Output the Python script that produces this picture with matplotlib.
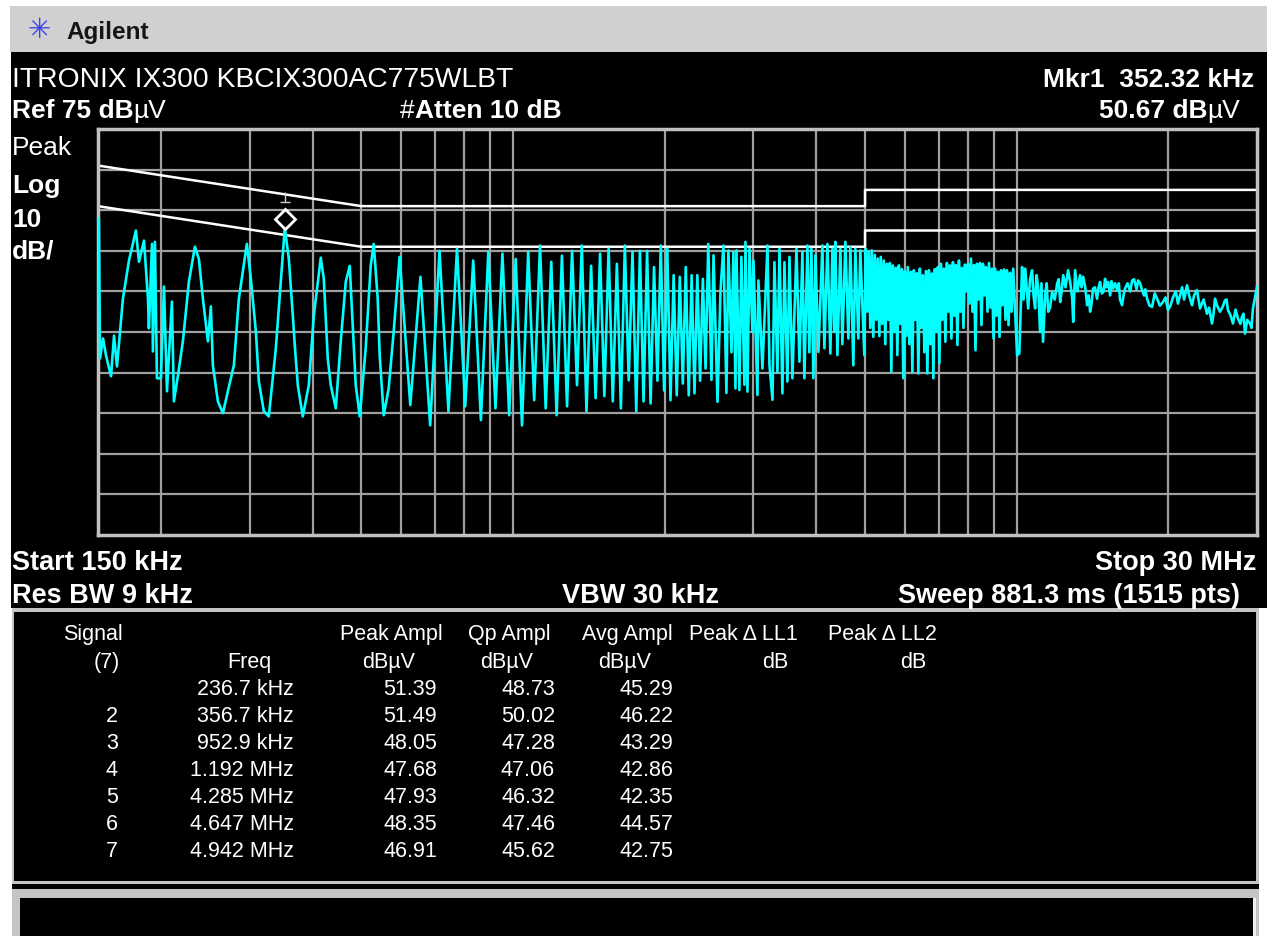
import matplotlib
matplotlib.use('Agg')
import matplotlib.pyplot as plt
from matplotlib.patches import Rectangle
from matplotlib.ticker import NullLocator
from matplotlib.transforms import ScaledTranslation

plt.rcParams['font.family'] = ['Liberation Sans', 'DejaVu Sans']

W, H = 1267, 937

# screen settings
ref_dbuv = 75
db_per_div = 10
start_mhz, stop_mhz = 0.15, 30.0

# limit lines (QP and AVG)
qp_limit_mhz = [0.15, 0.5, 5.0, 5.0, 30.0]
qp_limit_dbuv = [66, 56, 56, 60, 60]
avg_limit_mhz = [0.15, 0.5, 5.0, 5.0, 30.0]
avg_limit_dbuv = [56, 46, 46, 50, 50]

mkr_mhz = 0.35232
mkr_dbuv = 50.67

# trace, low part (kHz)
low_khz = [150.0, 150.6, 151.4, 153.5, 155.6, 159.2, 161.4, 163.6, 168.1, 172.8,
           178.4, 180.9, 185.1, 188.5, 189.3, 192.0, 192.8, 194.6, 196.4, 200.0,
           202.8, 205.6, 210.3, 212.2, 216.2, 221.1, 227.3, 233.6, 237.9, 242.3,
           247.9, 251.3, 253.6, 259.5, 265.5, 271.6, 279.2, 285.6, 296.2, 301.7,
           308.7, 312.9, 320.1, 327.5, 338.2, 346.0, 352.3, 358.9, 365.5, 368.8,
           373.9, 382.5, 393.2, 402.3, 415.3, 421.1, 428.8, 434.7, 444.8, 455.0,
           465.6, 474.1, 480.6, 487.3, 496.3, 510.0, 521.8, 529.0, 538.8, 543.7,
           553.8, 566.5, 579.6]
low_dbuv = [50.5, 52.9, 18.5, 23.4, 19.2, 14.1, 24.1, 16.5, 33.2, 42.6,
            50.0, 42.3, 47.5, 33.2, 25.9, 46.7, 20.2, 47.2, 13.6, 13.6,
            36.2, 10.4, 32.5, 7.9, 14.3, 22.7, 37.4, 46.0, 43.0, 33.2,
            22.7, 31.3, 16.8, 7.9, 5.0, 10.4, 16.8, 33.2, 46.7, 38.1,
            25.1, 12.8, 5.5, 4.2, 21.0, 37.4, 50.67, 43.0, 29.0, 21.7,
            11.9, 4.2, 11.9, 29.0, 43.3, 38.1, 18.5, 11.9, 6.2, 22.7,
            37.4, 41.3, 26.6, 11.9, 4.2, 21.0, 41.3, 46.7, 33.2, 19.2,
            4.5, 11.1, 25.1]

# resolved comb, harmonic tops and the dips between them (MHz)
comb_peak_mhz = [0.5955, 0.6551, 0.7146, 0.7742, 0.8337, 0.8933, 0.9528, 1.0124,
                 1.0719, 1.1315, 1.1910, 1.2506, 1.3101, 1.3697, 1.4292, 1.4888,
                 1.5483, 1.6079, 1.6674, 1.7270, 1.7865, 1.8461, 1.9056, 1.9652,
                 2.0247, 2.0843, 2.1438, 2.2034, 2.2629, 2.3225, 2.3820, 2.4416]
comb_peak_dbuv = [43.5, 38.6, 45.0, 45.5, 42.6, 44.8, 44.3, 43.0,
                  44.8, 46.3, 42.3, 43.8, 45.0, 46.3, 41.3, 44.3,
                  45.5, 41.8, 46.3, 44.8, 45.0, 45.0, 41.0, 46.3,
                  45.5, 39.0, 38.6, 41.0, 39.0, 39.0, 38.1, 46.7]
comb_dip_mhz = [0.6253, 0.6848, 0.7444, 0.8039, 0.8635, 0.9230, 0.9826, 1.0421,
                1.1017, 1.1612, 1.2208, 1.2803, 1.3399, 1.3994, 1.4590, 1.5185,
                1.5781, 1.6376, 1.6972, 1.7567, 1.8163, 1.8758, 1.9354, 1.9949,
                2.0545, 2.1140, 2.1736, 2.2331, 2.2927, 2.3522, 2.4118]
comb_dip_dbuv = [7.0, 2.0, 5.5, 6.7, 3.3, 6.2, 4.5, 2.0,
                 8.2, 6.2, 4.5, 6.7, 11.9, 5.5, 8.7, 9.2,
                 7.9, 6.2, 13.1, 5.5, 7.9, 7.4, 13.0, 10.6,
                 8.2, 9.4, 12.3, 9.4, 9.9, 13.0, 16.0]

# 2.4 - 4.9 MHz, harmonics only a few points apart
mid_mhz = [2.478, 2.501, 2.547, 2.582, 2.617, 2.653, 2.677, 2.715, 2.739, 2.765,
           2.777, 2.815, 2.841, 2.881, 2.894, 2.921, 2.948, 2.988, 3.002, 3.057,
           3.071, 3.128, 3.201, 3.230, 3.275, 3.304, 3.350, 3.381, 3.427, 3.459,
           3.506, 3.539, 3.587, 3.654, 3.704, 3.755, 3.789, 3.842, 3.876, 3.912,
           3.948, 3.985, 4.040, 4.114, 4.152, 4.210, 4.267, 4.307, 4.345, 4.365,
           4.406, 4.467, 4.508, 4.570, 4.633, 4.675, 4.739, 4.783, 4.849, 4.893]
mid_dbuv = [13.2, 43.9, 7.8, 35.0, 46.3, 10.0, 45.1, 20.0, 44.7, 11.1,
            45.1, 10.7, 43.5, 12.0, 47.2, 10.3, 45.5, 25.0, 42.6, 9.5,
            37.7, 16.0, 46.3, 16.8, 8.3, 42.2, 15.0, 45.5, 9.9, 42.2,
            12.8, 43.5, 13.6, 45.5, 17.7, 44.7, 13.6, 46.3, 20.0, 45.5,
            13.6, 43.9, 20.1, 46.3, 21.0, 46.7, 19.7, 45.5, 25.0, 47.2,
            19.3, 45.5, 22.0, 47.2, 23.4, 45.9, 16.8, 45.5, 23.4, 45.1]

# 5 - 9.8 MHz, solid band
band_mhz = [4.983, 5.017, 5.052, 5.086, 5.121, 5.157, 5.192, 5.228, 5.264, 5.300,
            5.337, 5.373, 5.410, 5.448, 5.485, 5.523, 5.561, 5.599, 5.638, 5.677,
            5.716, 5.755, 5.795, 5.835, 5.875, 5.915, 5.956, 5.997, 6.038, 6.080,
            6.122, 6.164, 6.207, 6.249, 6.293, 6.336, 6.380, 6.424, 6.468, 6.512,
            6.557, 6.602, 6.648, 6.694, 6.740, 6.786, 6.833, 6.880, 6.928, 6.975,
            7.024, 7.072, 7.121, 7.170, 7.219, 7.269, 7.319, 7.370, 7.420, 7.472,
            7.523, 7.575, 7.627, 7.680, 7.733, 7.786, 7.840, 7.894, 7.948, 8.003,
            8.058, 8.114, 8.170, 8.226, 8.283, 8.340, 8.398, 8.455, 8.514, 8.572,
            8.631, 8.691, 8.751, 8.811, 8.872, 8.933, 8.995, 9.057, 9.119, 9.182,
            9.246, 9.309, 9.374, 9.438, 9.503, 9.569, 9.635, 9.701, 9.768]
band_dbuv = [19.3, 45.5, 30.0,
             44.7, 26.0, 45.1, 23.8, 44.0, 28.0, 43.1, 24.0, 43.5, 27.0,
             42.6, 22.0, 41.8, 28.0, 42.0, 15.2, 41.4, 25.0, 40.8, 19.3, 41.4, 27.0, 40.5, 13.6,
             40.0, 24.0, 41.0, 22.0, 39.8, 15.2, 40.2, 28.0, 39.5,
             14.8, 40.6, 26.0, 39.0, 20.0, 40.0, 14.8, 40.2, 22.0, 39.4, 13.6, 40.5, 25.0,
             41.0, 17.3, 41.8, 28.0, 40.6, 22.6, 42.0, 30.0, 41.4,
             23.4, 42.2, 29.0, 41.5, 21.8, 42.6, 30.0, 40.8, 26.0, 41.6, 35.0,
             41.8, 32.0, 43.1, 30.0, 41.5, 20.5, 41.8, 33.0, 42.0, 26.7, 41.8, 34.0, 41.0, 30.0, 42.0, 31.0,
             40.6, 23.4, 40.6, 29.0, 39.8, 23.8, 40.2, 31.6, 40.4, 28.0, 40.2, 26.7, 39.6, 30.0]

# 9.8 - 30 MHz, broadband hump
high_mhz = [9.842, 10.02, 10.12, 10.25, 10.32, 10.40, 10.54, 10.63, 10.73, 10.80,
            10.88, 10.95, 11.03, 11.13, 11.20, 11.28, 11.39, 11.47, 11.55, 11.65,
            11.76, 11.90, 12.03, 12.12, 12.20, 12.28, 12.37, 12.50, 12.65, 12.78,
            12.89, 12.95, 13.06, 13.20, 13.36, 13.45, 13.55, 13.68, 13.80, 13.90,
            13.99, 14.08, 14.18, 14.30, 14.44, 14.54, 14.64, 14.77, 14.88, 14.98,
            15.08, 15.19, 15.33, 15.43, 15.54, 15.68, 15.83, 15.95, 16.04, 16.19,
            16.30, 16.41, 16.60, 16.80, 16.95, 17.10, 17.30, 17.42, 17.58, 17.74,
            17.90, 18.00, 18.15, 18.35, 18.57, 18.80, 19.00, 19.25, 19.52, 19.75,
            19.97, 20.20, 20.44, 20.70, 20.90, 21.10, 21.30, 21.50, 21.79, 22.00,
            22.29, 22.50, 22.80, 23.12, 23.50, 23.87, 24.10, 24.42, 24.60, 24.76,
            25.00, 25.33, 25.60, 25.92, 26.10, 26.27, 26.60, 26.88, 27.20, 27.50,
            27.80, 28.01, 28.20, 28.40, 28.70, 29.05, 29.25, 29.45, 30.0]
high_dbuv = [40.6, 19.3, 19.7, 41.0, 33.0, 40.6, 30.8, 38.0, 40.2, 34.0,
             30.8, 39.0, 36.1, 25.0, 37.0, 22.6, 34.0, 37.0, 30.0, 31.0,
             34.9, 33.0, 36.9, 38.0, 32.4, 35.0, 39.0, 36.0, 40.2, 37.0,
             33.2, 27.5, 40.2, 35.0, 39.0, 36.0, 38.6, 36.0, 31.6, 34.0,
             30.0, 32.0, 35.7, 36.0, 33.2, 36.0, 37.3, 34.5, 35.0, 38.1,
             36.0, 37.3, 34.0, 37.5, 35.7, 37.0, 35.3, 37.0, 33.0, 31.6,
             34.0, 35.7, 37.0, 35.0, 37.7, 38.0, 35.5, 37.7, 37.0, 35.3,
             34.0, 35.5, 33.2, 31.5, 31.2, 34.5, 33.2, 31.5, 32.4, 33.5,
             30.4, 31.5, 33.6, 35.0, 32.0, 34.0, 36.0, 33.0, 36.5, 34.0,
             31.6, 34.0, 35.3, 30.8, 33.0, 29.5, 31.0, 27.1, 29.5, 33.2,
             31.5, 30.0, 31.0, 32.8, 33.0, 30.4, 29.0, 27.1, 30.5, 28.3,
             27.0, 28.7, 29.5, 24.6, 28.0, 27.1, 26.0, 30.8, 36.1]

# signal list table
sig_no = ['', '2', '3', '4', '5', '6', '7']
sig_freq = ['236.7 kHz', '356.7 kHz', '952.9 kHz', '1.192 MHz', '4.285 MHz', '4.647 MHz', '4.942 MHz']
peak_ampl = ['51.39', '51.49', '48.05', '47.68', '47.93', '48.35', '46.91']
qp_ampl = ['48.73', '50.02', '47.28', '47.06', '46.32', '47.46', '45.62']
avg_ampl = ['45.29', '46.22', '43.29', '42.86', '42.35', '44.57', '42.75']

# build the trace
comb_mhz, comb_dbuv = [], []
for i in range(len(comb_peak_mhz)):
    comb_mhz.append(comb_peak_mhz[i])
    comb_dbuv.append(comb_peak_dbuv[i])
    if i < len(comb_dip_mhz):
        comb_mhz.append(comb_dip_mhz[i])
        comb_dbuv.append(comb_dip_dbuv[i])
trace_mhz = [k / 1000 for k in low_khz] + comb_mhz + mid_mhz + band_mhz + high_mhz
trace_dbuv = low_dbuv + comb_dbuv + mid_dbuv + band_dbuv + high_dbuv

fig = plt.figure(figsize=(W / 100, H / 100), dpi=100)
fig.patch.set_facecolor('white')

# background layer in pixel units
bg = fig.add_axes([0, 0, 1, 1])
bg.set_xlim(0, W)
bg.set_ylim(H, 0)
bg.axis('off')

def box(x0, y0, x1, y1, fc):
    bg.add_patch(Rectangle((x0, y0), x1 - x0, y1 - y0, facecolor=fc, edgecolor='none'))

box(10, 7, W, 53, '#d0d0d0')
box(11, 53, W, 609, 'black')
box(12, 609, 1259, 885, '#c4c4c4')
box(14, 613, 1256, 882, 'black')
box(12, 885, 1259, 890, 'black')
box(12, 890, 1259, H, '#c4c4c4')
box(20, 899, 1256, H, '#f0f0f0')
box(20, 899, 1253, H, 'black')

# logo
bg.text(39, 30, '\u2733', fontsize=20, color='#4040f0', ha='center', va='center',
        family='DejaVu Sans')
bg.text(66, 39, 'Agilent', fontsize=17.5, fontweight='bold', color='#151515', va='baseline')

renderer = fig.canvas.get_renderer()

def put(x, y, parts, ha='left', size=19, color='white'):
    arts, widths = [], []
    for s, w in parts:
        t = bg.text(0, y, s, fontsize=size, fontweight=w, color=color, va='baseline', ha='left')
        arts.append(t)
        widths.append(t.get_window_extent(renderer).width)
    total = sum(widths)
    cur = x if ha == 'left' else (x - total if ha == 'right' else x - total / 2)
    for t, wd in zip(arts, widths):
        t.set_x(cur)
        cur += wd

put(12, 87, [('ITRONIX IX300 KBCIX300AC775WLBT', 'normal')], size=20.3)
put(1254, 87, [('Mkr1  352.32 kHz', 'bold')], ha='right')
put(12, 118, [('Ref 75 dB', 'bold'), ('\u00b5V', 'normal')])
put(400, 118, [('#', 'normal'), ('Atten 10 dB', 'bold')])
put(1240, 118, [('50.67 dB', 'bold'), ('\u00b5V', 'normal')], ha='right')
put(12, 155, [('Peak', 'normal')])
put(12, 193, [('Log', 'bold')])
put(12, 227, [('10', 'bold')])
put(12, 259, [('dB/', 'bold')])
put(12, 570, [('Start 150 kHz', 'bold')], size=19.5)
put(1256, 570, [('Stop 30 MHz', 'bold')], ha='right', size=19.5)
put(12, 603, [('Res BW 9 kHz', 'bold')], size=19.5)
put(640, 603, [('VBW 30 kHz', 'bold')], ha='center', size=19.5)
put(1240, 603, [('Sweep 881.3 ms (1515 pts)', 'bold')], ha='right', size=19.5)

# signal table
ts = 15.5
put(93, 640, [('Signal', 'normal')], ha='center', size=ts)
put(443, 640, [('Peak Ampl', 'normal')], ha='right', size=ts)
put(551, 640, [('Qp Ampl', 'normal')], ha='right', size=ts)
put(673, 640, [('Avg Ampl', 'normal')], ha='right', size=ts)
put(689, 640, [('Peak \u0394 LL1', 'normal')], size=ts)
put(828, 640, [('Peak \u0394 LL2', 'normal')], size=ts)
put(120, 668, [('(7)', 'normal')], ha='right', size=ts)
put(249, 668, [('Freq', 'normal')], ha='center', size=ts)
for cx in (389, 507, 625):
    put(cx, 668, [('dB\u00b5V', 'normal')], ha='center', size=ts)
put(775, 668, [('dB', 'normal')], ha='center', size=ts)
put(913, 668, [('dB', 'normal')], ha='center', size=ts)
for i in range(len(sig_freq)):
    yb = 695 + i * 27
    put(118, yb, [(sig_no[i], 'normal')], ha='right', size=ts)
    put(294, yb, [(sig_freq[i], 'normal')], ha='right', size=ts)
    put(437, yb, [(peak_ampl[i], 'normal')], ha='right', size=ts)
    put(555, yb, [(qp_ampl[i], 'normal')], ha='right', size=ts)
    put(673, yb, [(avg_ampl[i], 'normal')], ha='right', size=ts)

# graticule
ax = fig.add_axes([98 / W, 1 - 536 / H, (1257 - 98) / W, (536 - 130) / H])
ax.set_facecolor('black')
ax.set_xscale('log')
ax.set_xlim(start_mhz, stop_mhz)
ax.set_ylim(ref_dbuv - 10 * db_per_div, ref_dbuv)
grid_mhz = [0.2, 0.3, 0.4, 0.5, 0.6, 0.7, 0.8, 0.9, 1, 2, 3, 4, 5, 6, 7, 8, 9, 10, 20]
ax.set_xticks(grid_mhz)
ax.set_yticks([ref_dbuv - db_per_div * k for k in range(1, 10)])
ax.xaxis.set_minor_locator(NullLocator())
ax.tick_params(length=0, labelbottom=False, labelleft=False)
ax.grid(True, color='#a0a0a0', linewidth=1.6, zorder=0)
ax.set_axisbelow(True)
for sp in ax.spines.values():
    sp.set_color('#c0c0c0')
    sp.set_linewidth(2.5)

ax.plot(qp_limit_mhz, qp_limit_dbuv, color='white', lw=1.8, zorder=2)
ax.plot(avg_limit_mhz, avg_limit_dbuv, color='white', lw=1.8, zorder=2)
ax.plot(trace_mhz, trace_dbuv, color='#00ffff', lw=1.9, zorder=3)

# marker 1 (diamond drawn just above the trace point)
up = ScaledTranslation(0, 9 / 100, fig.dpi_scale_trans)
ax.plot([mkr_mhz], [mkr_dbuv], marker='D', ms=10, mfc='black', mec='white', mew=2,
        transform=ax.transData + up, zorder=5, clip_on=False)
ax.plot([mkr_mhz], [56.9], marker=2, ms=7, color='#d0d0d0', mew=1, zorder=4)
ax.plot([mkr_mhz], [56.9], marker='_', ms=7, color='#d0d0d0', mew=1, zorder=4)

fig.savefig('out.png', dpi=100, facecolor='white')
